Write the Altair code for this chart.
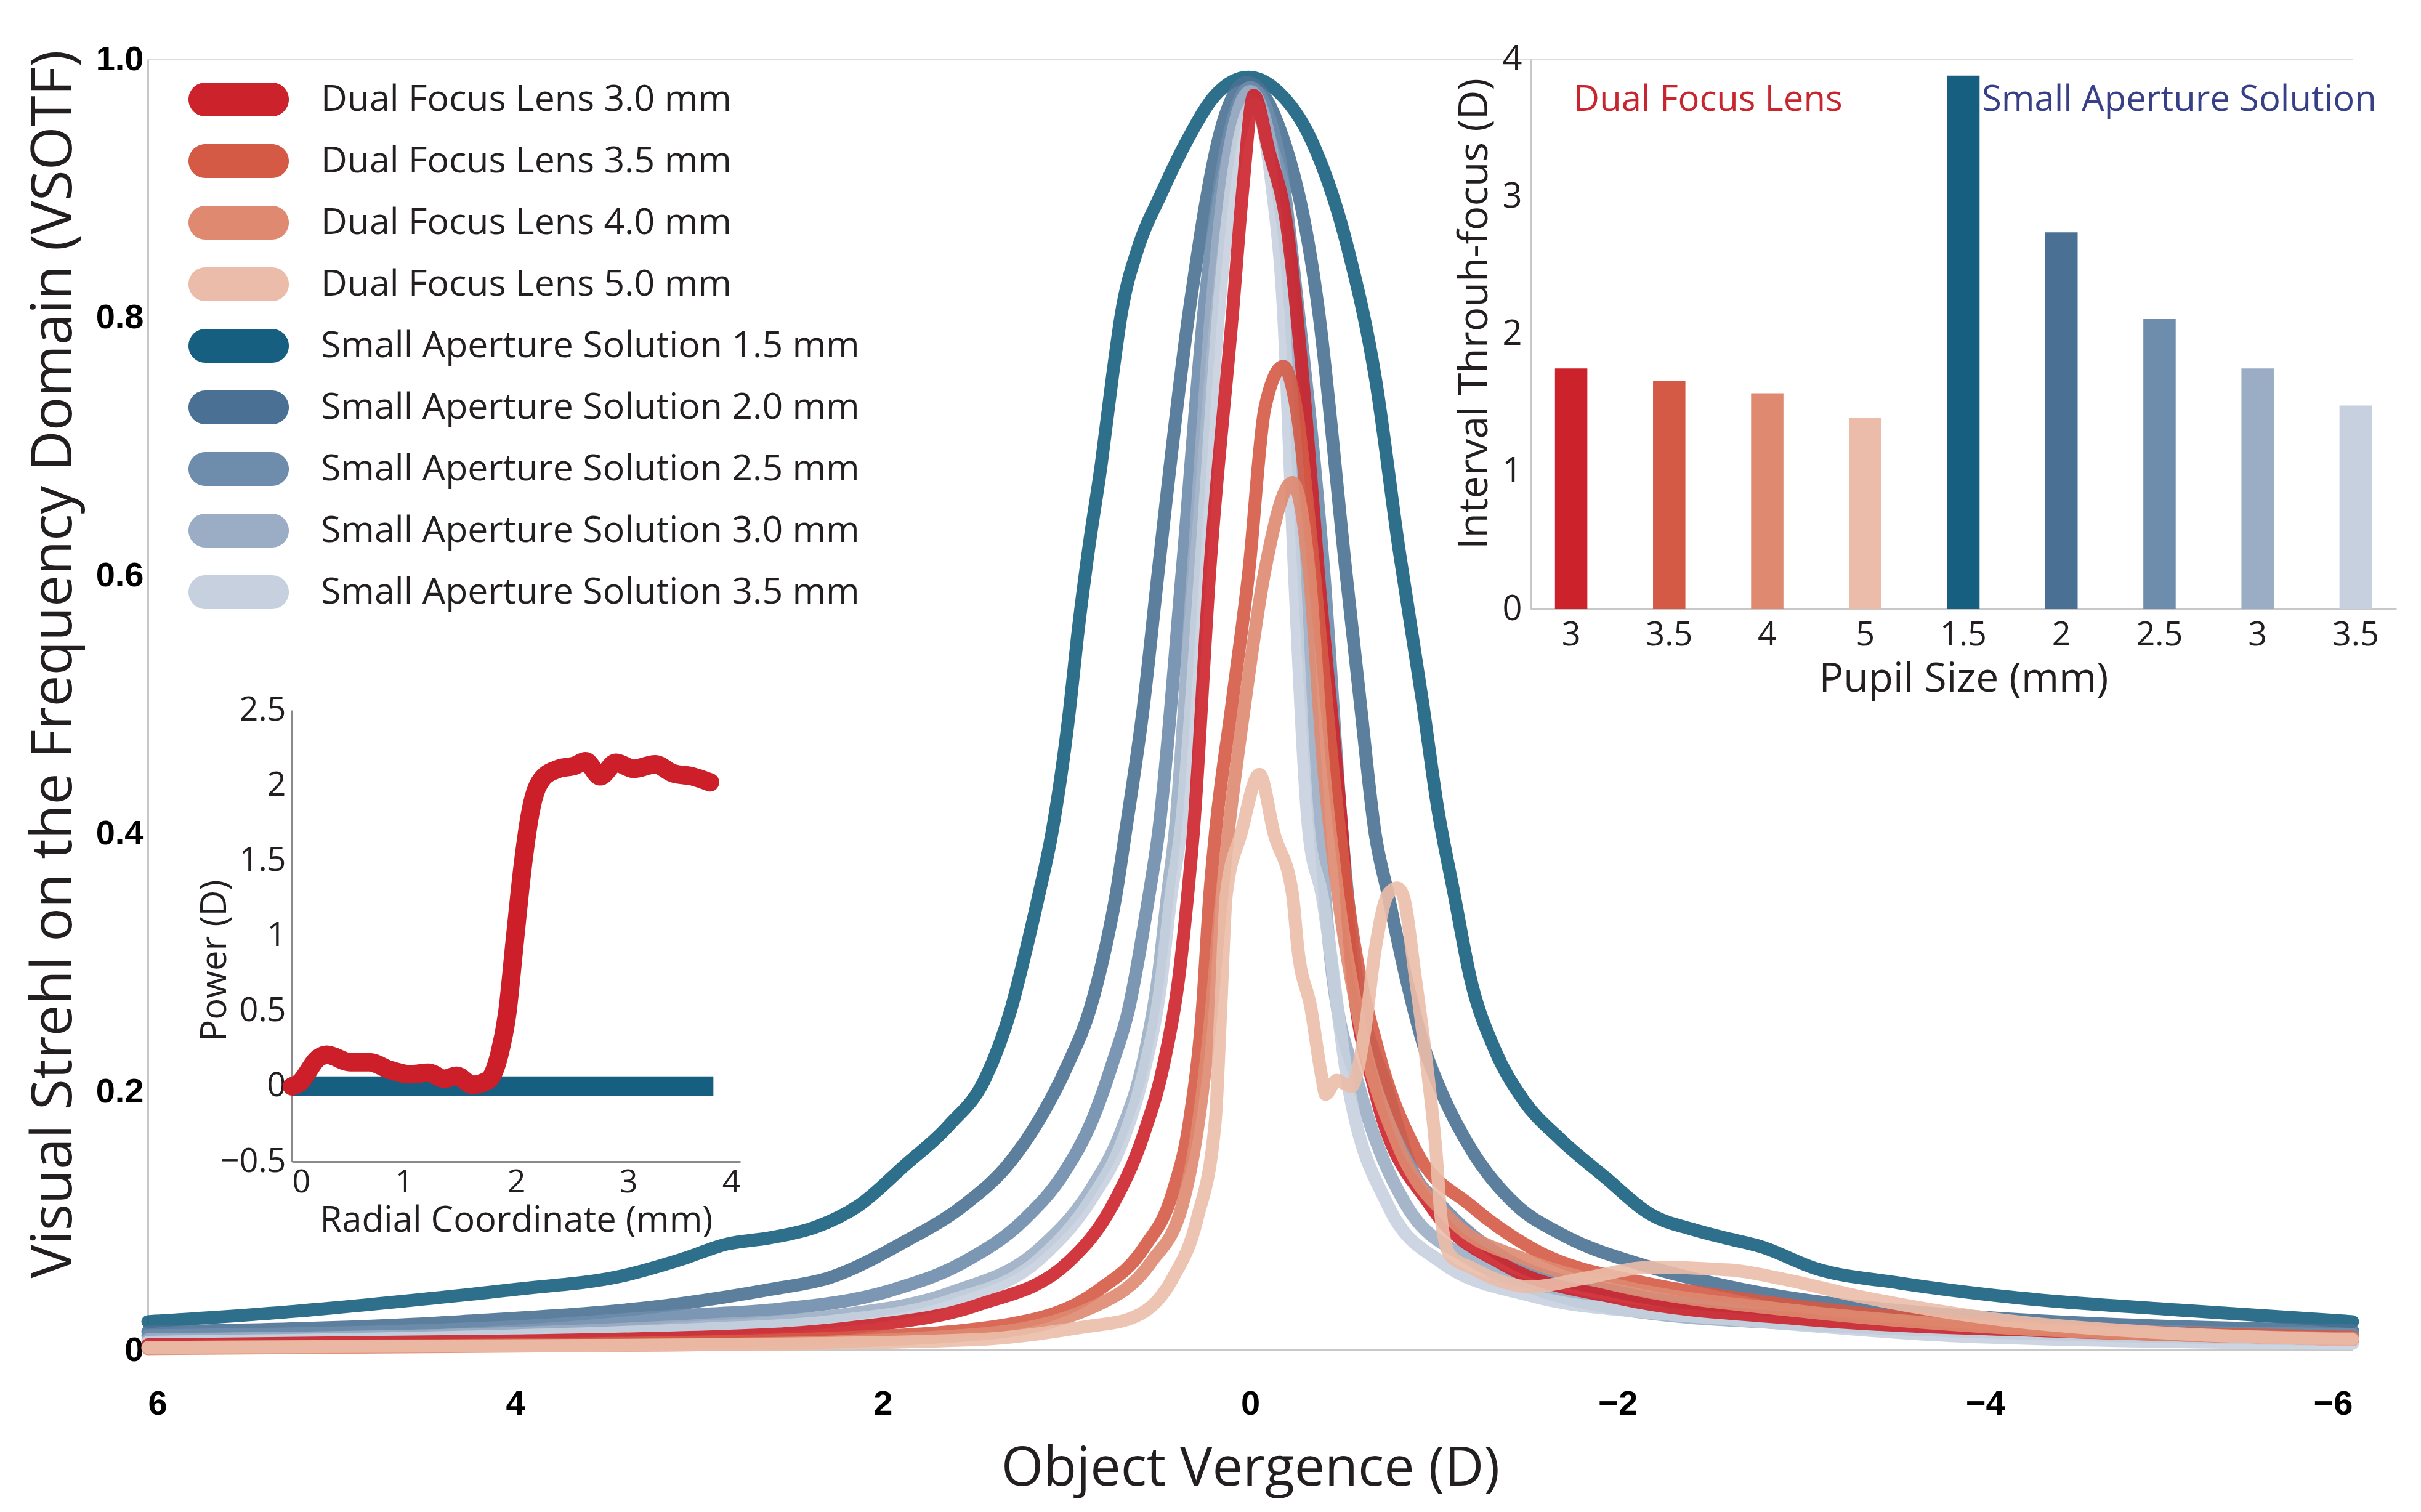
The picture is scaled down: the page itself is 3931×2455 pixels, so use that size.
import altair as alt
import pandas as pd

# ---------------- data ----------------
SERIES = [
    "Dual Focus Lens 3.0 mm", "Dual Focus Lens 3.5 mm", "Dual Focus Lens 4.0 mm", "Dual Focus Lens 5.0 mm",
    "Small Aperture Solution 1.5 mm", "Small Aperture Solution 2.0 mm", "Small Aperture Solution 2.5 mm",
    "Small Aperture Solution 3.0 mm", "Small Aperture Solution 3.5 mm",
]
COLORS = ["#cc222b", "#d45a45", "#df8a70", "#ebbca9",
          "#175f80", "#4a7194", "#6e8cab", "#9badc4", "#c6d0de"]

# Through-focus VSOTF curves (object vergence D, VSOTF)
DFL30_X = [6, 4.0, 2.61, 2.13, 1.48, 0.99, 0.75, 0.58, 0.47, 0.39, 0.34, 0.31, 0.22, 0.094, 0.04, -0.02, -0.1, -0.2, -0.30, -0.37, -0.50, -0.55, -0.68, -0.98, -1.38, -2.01, -3.0, -4.5, -6]
DFL30_Y = [0.004, 0.007, 0.012, 0.018, 0.035, 0.068, 0.112, 0.167, 0.222, 0.287, 0.353, 0.40, 0.604, 0.807, 0.90, 0.972, 0.93, 0.87, 0.73, 0.604, 0.40, 0.30, 0.2, 0.112, 0.066, 0.04, 0.024, 0.014, 0.008]

DFL35_X = [6, 4.0, 2.13, 1.31, 0.83, 0.58, 0.42, 0.33, 0.26, 0.22, 0.19, 0.1, 0.007, -0.08, -0.18, -0.25, -0.35, -0.45, -0.55, -0.7, -0.9, -1.2, -1.53, -2.18, -2.62, -3.84, -6]
DFL35_Y = [0.002, 0.004, 0.010, 0.020, 0.046, 0.079, 0.123, 0.178, 0.265, 0.353, 0.40, 0.50, 0.604, 0.73, 0.762, 0.73, 0.6, 0.45, 0.33, 0.23, 0.155, 0.112, 0.079, 0.051, 0.041, 0.022, 0.010]

DFL40_X = [6, 3.0, 1.5, 0.83, 0.54, 0.37, 0.28, 0.21, 0.17, 0.12, 0.03, -0.08, -0.23, -0.32, -0.40, -0.48, -0.60, -0.80, -1.1, -1.5, -2.0, -3.0, -4.0, -6]
DFL40_Y = [0.001, 0.004, 0.012, 0.035, 0.068, 0.112, 0.178, 0.265, 0.33, 0.40, 0.50, 0.604, 0.672, 0.604, 0.45, 0.35, 0.25, 0.16, 0.10, 0.07, 0.05, 0.03, 0.018, 0.009]

DFL50_X = [6, 3.0, 1.5, 0.9, 0.66, 0.42, 0.29, 0.19, 0.16, 0.13, 0.05, -0.05, -0.13, -0.23, -0.26, -0.33, -0.39, -0.41, -0.47, -0.55, -0.62, -0.68, -0.75, -0.80, -0.83, -0.90, -0.96, -1.01, -1.04, -1.09, -1.20, -1.37, -1.53, -1.8, -2.18, -2.61, -2.9, -3.3, -4.0, -5.0, -6]
DFL50_Y = [0.002, 0.004, 0.008, 0.018, 0.024, 0.056, 0.101, 0.178, 0.265, 0.353, 0.40, 0.446, 0.40, 0.353, 0.31, 0.265, 0.211, 0.198, 0.209, 0.204, 0.244, 0.31, 0.353, 0.358, 0.353, 0.287, 0.222, 0.156, 0.101, 0.073, 0.064, 0.053, 0.049, 0.055, 0.064, 0.062, 0.055, 0.042, 0.025, 0.013, 0.008]

SAS15_X = [6, 5.2, 4.6, 4.0, 3.4, 3.1, 2.85, 2.61, 2.37, 2.13, 1.88, 1.64, 1.44, 1.30, 1.22, 1.15, 1.08, 0.98, 0.94, 0.88, 0.81, 0.75, 0.70, 0.61, 0.49, 0.34, 0.19, 0.01, -0.15, -0.33, -0.53, -0.68, -0.81, -0.94, -1.02, -1.11, -1.20, -1.33, -1.48, -1.69, -1.93, -2.18, -2.42, -2.61, -2.78, -3.08, -3.53, -4.14, -5.05, -6]
SAS15_Y = [0.022, 0.030, 0.038, 0.047, 0.058, 0.070, 0.082, 0.087, 0.095, 0.112, 0.143, 0.174, 0.211, 0.265, 0.31, 0.353, 0.40, 0.50, 0.553, 0.62, 0.687, 0.754, 0.804, 0.854, 0.894, 0.938, 0.972, 0.986, 0.975, 0.938, 0.854, 0.754, 0.62, 0.50, 0.42, 0.353, 0.287, 0.233, 0.195, 0.163, 0.134, 0.105, 0.093, 0.086, 0.080, 0.063, 0.052, 0.041, 0.031, 0.022]

SAS20_X = [6, 4.3, 3.1, 2.61, 2.29, 1.88, 1.56, 1.31, 1.15, 0.99, 0.87, 0.79, 0.73, 0.68, 0.58, 0.50, 0.33, 0.15, 0.02, -0.15, -0.37, -0.52, -0.60, -0.68, -0.75, -0.85, -0.95, -1.04, -1.20, -1.45, -1.69, -2.18, -2.61, -3.84, -6]
SAS20_Y = [0.014, 0.022, 0.036, 0.047, 0.056, 0.084, 0.112, 0.145, 0.178, 0.222, 0.265, 0.31, 0.353, 0.40, 0.50, 0.604, 0.807, 0.95, 0.982, 0.95, 0.807, 0.604, 0.50, 0.40, 0.353, 0.287, 0.233, 0.2, 0.156, 0.112, 0.09, 0.064, 0.049, 0.027, 0.015]

SAS25_X = [6, 4.0, 3.07, 2.61, 1.96, 1.56, 1.23, 1.01, 0.86, 0.75, 0.66, 0.60, 0.55, 0.50, 0.37, 0.25, 0.10, 0.0, -0.15, -0.26, -0.40, -0.50, -0.57, -0.75, -0.88, -1.04, -1.4, -2.0, -3.0, -4.0, -6]
SAS25_Y = [0.011, 0.018, 0.027, 0.031, 0.046, 0.068, 0.101, 0.138, 0.178, 0.222, 0.265, 0.31, 0.353, 0.40, 0.604, 0.807, 0.95, 0.978, 0.93, 0.807, 0.604, 0.40, 0.30, 0.2, 0.14, 0.112, 0.07, 0.045, 0.028, 0.019, 0.012]

SAS30_X = [6, 4.0, 3.0, 2.29, 1.64, 1.15, 0.86, 0.70, 0.58, 0.50, 0.45, 0.41, 0.31, 0.21, 0.1, 0.0, -0.15, -0.22, -0.29, -0.38, -0.44, -0.60, -0.85, -1.2, -1.6, -2.0, -3.0, -4.0, -6]
SAS30_Y = [0.008, 0.013, 0.019, 0.026, 0.044, 0.078, 0.126, 0.17, 0.225, 0.29, 0.353, 0.40, 0.604, 0.807, 0.94, 0.975, 0.9, 0.807, 0.604, 0.40, 0.30, 0.2, 0.112, 0.07, 0.045, 0.032, 0.02, 0.014, 0.008]

SAS35_X = [6, 4.0, 3.0, 2.29, 1.64, 1.15, 0.86, 0.70, 0.58, 0.49, 0.43, 0.38, 0.27, 0.17, 0.07, -0.02, -0.12, -0.18, -0.24, -0.32, -0.39, -0.54, -0.75, -1.04, -1.53, -2.18, -2.61, -4.0, -6]
SAS35_Y = [0.006, 0.011, 0.016, 0.022, 0.038, 0.07, 0.118, 0.16, 0.215, 0.28, 0.353, 0.40, 0.604, 0.807, 0.93, 0.965, 0.9, 0.807, 0.604, 0.40, 0.353, 0.2, 0.112, 0.068, 0.042, 0.029, 0.024, 0.01, 0.005]

# Inset bar chart: interval through-focus (D) per series
BAR_VALUES = [1.75, 1.66, 1.57, 1.39, 3.88, 2.74, 2.11, 1.75, 1.48]

# Inset power profile
POWER_R = [0.0, 0.06, 0.24, 0.31, 0.52, 0.69, 0.87, 1.05, 1.22, 1.36, 1.47, 1.61, 1.75, 1.85, 1.92, 1.99, 2.06, 2.13, 2.24, 2.38, 2.52, 2.62, 2.75, 2.89, 3.05, 3.24, 3.40, 3.57, 3.73]
POWER_D = [0.0, 0.02, 0.19, 0.21, 0.16, 0.16, 0.11, 0.08, 0.09, 0.05, 0.07, 0.01, 0.04, 0.21, 0.48, 0.98, 1.47, 1.83, 2.05, 2.11, 2.13, 2.16, 2.06, 2.15, 2.11, 2.14, 2.08, 2.06, 2.02]
SAS_R = [0.0, 3.76]
SAS_D = [0.0, 0.0]

ANN_TEXT = ["Dual Focus Lens", "Small Aperture Solution"]
ANN_AT = ["Dual Focus Lens 3.0 mm", "Small Aperture Solution 1.5 mm"]
ANN_Y = [3.7, 3.7]

# ---------------- tables ----------------
curve_arrays = {
    SERIES[0]: (DFL30_X, DFL30_Y), SERIES[1]: (DFL35_X, DFL35_Y),
    SERIES[2]: (DFL40_X, DFL40_Y), SERIES[3]: (DFL50_X, DFL50_Y),
    SERIES[4]: (SAS15_X, SAS15_Y), SERIES[5]: (SAS20_X, SAS20_Y),
    SERIES[6]: (SAS25_X, SAS25_Y), SERIES[7]: (SAS30_X, SAS30_Y),
    SERIES[8]: (SAS35_X, SAS35_Y),
}
draw_order = SERIES[4:] + SERIES[:4]
rows = []
for name in draw_order:
    xs, ys = curve_arrays[name]
    for xv, yv in zip(xs, ys):
        rows.append({"series": name, "vergence": xv, "vsotf": yv})
curves = pd.DataFrame(rows)

bars_df = pd.DataFrame({"series": SERIES, "interval": BAR_VALUES})
ann_df = pd.DataFrame({"series": ANN_AT, "text": ANN_TEXT, "y": ANN_Y})
power_df = pd.DataFrame({"r": POWER_R, "p": POWER_D})
sas_df = pd.DataFrame({"r": SAS_R, "p": SAS_D})

# ---------------- layout ----------------
W, H = 3580, 2096
TXT = "#231f20"
SANS = "Open Sans"
BOLD = "Liberation Sans Narrow, Liberation Sans, Arial"

color_scale = alt.Scale(domain=SERIES, range=COLORS)
# filled capsule-shaped legend swatch (path units scaled by sqrt(size)/2)
capsule = ("M-1.964,-1L1.964,-1C2.516,-1 2.964,-0.552 2.964,0C2.964,0.552 2.516,1 1.964,1"
           "L-1.964,1C-2.516,1 -2.964,0.552 -2.964,0C-2.964,-0.552 -2.516,-1 -1.964,-1Z")

x_main = alt.X("vergence:Q",
               scale=alt.Scale(domain=[-6, 6], reverse=True, nice=False, zero=False),
               axis=alt.Axis(orient="bottom", values=[6, 4, 2, 0, -2, -4, -6], title="Object Vergence (D)",
                             grid=False, ticks=False, domainColor="#c8c8c8", domainWidth=3,
                             labelFont=BOLD, labelFontSize=56, labelFontWeight="bold", labelColor="#000",
                             labelPadding=60, titleFont=SANS, titleFontSize=88, titleFontWeight="normal",
                             titleColor=TXT, titlePadding=34))
y_main = alt.Y("vsotf:Q",
               scale=alt.Scale(domain=[0, 1], nice=False, zero=False),
               axis=alt.Axis(orient="left", values=[0, 0.2, 0.4, 0.6, 0.8, 1.0],
                             labelExpr="datum.value == 0 ? '0' : format(datum.value, '.1f')",
                             title="Visual Strehl on the Frequency Domain (VSOTF)",
                             grid=False, ticks=False, domainColor="#c8c8c8", domainWidth=3,
                             labelFont=BOLD, labelFontSize=56, labelFontWeight="bold", labelColor="#000",
                             labelPadding=7, titleFont=SANS, titleFontSize=91, titleFontWeight="normal",
                             titleColor=TXT, titleBaseline="middle", titleAlign="center",
                             titleX=-152, titleY=982))

# legend-only layer (no rows drawn), gives filled capsule swatches
legend_layer = alt.Chart(curves).transform_filter("false").mark_point(
    filled=True, shape=capsule, size=3025, opacity=1
).encode(
    x=x_main, y=y_main,
    color=alt.Color("series:N", scale=color_scale,
                    legend=alt.Legend(title=None, orient="none", legendX=118, legendY=36,
                                      direction="vertical", symbolType=capsule, symbolSize=3025,
                                      symbolStrokeWidth=0, symbolOpacity=1, labelFont=SANS,
                                      labelFontSize=59, labelColor=TXT, labelLimit=3000,
                                      labelOffset=104, rowPadding=40)),
)

lines = alt.Chart(curves).mark_line(
    strokeWidth=21, interpolate="monotone", opacity=0.9, strokeCap="round", strokeJoin="round"
).encode(
    x=x_main, y=y_main,
    color=alt.Color("series:N", scale=color_scale, legend=None),
)
main = alt.layer(legend_layer, lines)

# --- bar inset ---
bar_x = alt.X("series:N", sort=SERIES,
              scale=alt.Scale(domain=SERIES, range=[2245, 3651], paddingInner=0.67, paddingOuter=0.25),
              axis=alt.Axis(orient="bottom", offset=-1203, title="Pupil Size (mm)", labelAngle=0,
                            labelExpr="'' + toNumber(split(datum.label, ' ')[length(split(datum.label, ' ')) - 2])",
                            grid=False, ticks=False, domainColor="#c8c8c8", domainWidth=3,
                            labelFont=SANS, labelFontSize=54, labelColor=TXT, labelPadding=15,
                            titleFont=SANS, titleFontSize=66, titleFontWeight="normal", titleColor=TXT,
                            titlePadding=12))
bar_y_scale = alt.Scale(domain=[0, 4], range=[893, 0], nice=False, zero=False)
bars = alt.Chart(bars_df).mark_bar().encode(
    x=bar_x,
    y=alt.Y("interval:Q", scale=bar_y_scale,
            axis=alt.Axis(orient="left", offset=-2245, values=[0, 1, 2, 3, 4], format="d",
                          title="Interval Throuh-focus (D)", grid=False, ticks=False,
                          domainColor="#c8c8c8", domainWidth=3, labelFont=SANS, labelFontSize=56,
                          labelColor=TXT, labelPadding=14, titleFont=SANS, titleFontSize=66,
                          titleFontWeight="normal", titleColor=TXT, titleBaseline="middle",
                          titleAlign="center", titleX=-91, titleY=413)),
    color=alt.Color("series:N", scale=color_scale, legend=None),
)
ann_dfl = alt.Chart(ann_df).transform_filter(alt.datum.text == ANN_TEXT[0]).mark_text(
    align="left", baseline="middle", dx=4, font=SANS, fontSize=58, color="#c7262e"
).encode(x=alt.X("series:N", sort=SERIES), y=alt.Y("y:Q"), text="text:N")
ann_sas = alt.Chart(ann_df).transform_filter(alt.datum.text == ANN_TEXT[1]).mark_text(
    align="left", baseline="middle", dx=30, font=SANS, fontSize=58, color="#373f86"
).encode(x=alt.X("series:N", sort=SERIES), y=alt.Y("y:Q"), text="text:N")
bar_layer = alt.layer(bars, ann_dfl, ann_sas)

# --- power inset ---
p_x = alt.X("r:Q", scale=alt.Scale(domain=[0, 4], range=[234, 962], nice=False, zero=False),
            axis=alt.Axis(orient="bottom", offset=-306, values=[0, 1, 2, 3, 4],
                          title="Radial Coordinate (mm)", grid=False, ticks=False,
                          domainColor="#8a8a8a", domainWidth=3, labelFont=SANS, labelFontSize=52,
                          labelColor=TXT, labelPadding=8, titleFont=SANS, titleFontSize=58,
                          titleFontWeight="normal", titleColor=TXT, titlePadding=8))
p_y = alt.Y("p:Q", scale=alt.Scale(domain=[-0.5, 2.5], range=[1790, 1057], nice=False, zero=False),
            axis=alt.Axis(orient="left", offset=-234, values=[-0.5, 0, 0.5, 1, 1.5, 2, 2.5], format="~f",
                          title="Power (D)", grid=False, ticks=False, domainColor="#8a8a8a",
                          domainWidth=3, labelFont=SANS, labelFontSize=54, labelColor=TXT,
                          labelPadding=10, titleFont=SANS, titleFontSize=58, titleFontWeight="normal",
                          titleColor=TXT, titleBaseline="middle", titleAlign="center",
                          titleX=-125, titleY=1463))
sas_line = alt.Chart(sas_df).mark_line(strokeWidth=32, color="#175f80", strokeCap="butt").encode(x=p_x, y=p_y)
red_line = alt.Chart(power_df).mark_line(strokeWidth=30, color="#cc1f2a", interpolate="monotone",
                                         strokeCap="round", strokeJoin="round").encode(x=p_x, y=p_y)
power_layer = alt.layer(sas_line, red_line)

chart = alt.layer(main, bar_layer, power_layer).resolve_scale(
    x="independent", y="independent", color="independent"
).resolve_axis(x="independent", y="independent").properties(
    width=W, height=H,
    padding={"left": 232, "top": 88, "right": 100, "bottom": 250},
    autosize=alt.AutoSizeParams(type="none"),
).configure_view(stroke=None).configure(background="white")

chart.save("out.html", embed_options={"renderer": "svg", "actions": False})
